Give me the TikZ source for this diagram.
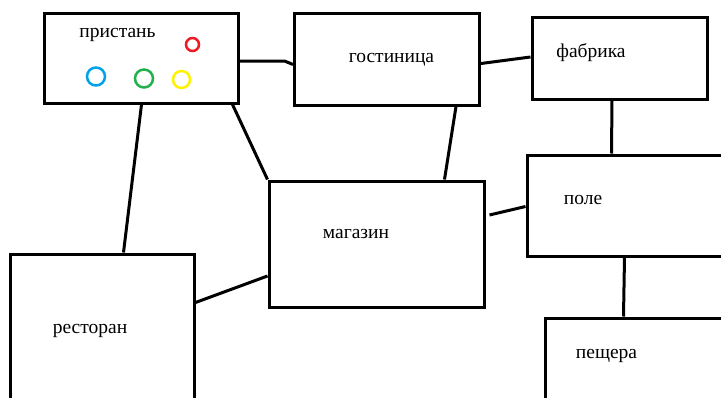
\documentclass[tikz,border=0pt]{standalone}
\usepackage{fontspec}
\setmainfont{Liberation Serif}
\usepackage{tikz}
\usetikzlibrary{positioning}
\definecolor{paintred}{RGB}{237,28,36}
\definecolor{paintblue}{RGB}{0,162,232}
\definecolor{paintgreen}{RGB}{34,177,76}
\definecolor{paintyellow}{RGB}{255,242,0}

\begin{document}
\begin{tikzpicture}[x=1pt, y=-1pt,
  box/.style={draw, line width=3pt, inner sep=0pt, fill=white},
  lbl/.style={anchor=base, inner sep=0pt, font=\fontsize{19.5}{22}\selectfont},
  link/.style={line width=3pt}]
\useasboundingbox (0,0) rectangle (721,397);
\clip (0,0) rectangle (721,397);
% Boxes
\node[box, minimum width=194pt, minimum height=90pt] (pristan) at (141,58) {};
\node[box, minimum width=185pt, minimum height=92pt] (gostinica) at (387,59) {};
\node[box, minimum width=175pt, minimum height=82pt] (fabrika) at (619.5,58) {};
\node[box, minimum width=213pt, minimum height=101pt] (pole) at (633.5,205.5) {};
\node[box, minimum width=215pt, minimum height=126pt] (magazin) at (376.5,244) {};
\node[box, minimum width=184pt, minimum height=156pt] (restoran) at (102,332) {};
\node[box, minimum width=195pt, minimum height=92pt] (peshchera) at (642.5,364) {};
% Labels
\node[lbl] (pristan-text) at (117.5,37) {пристань};
\node[lbl] (gostinica-text) at (391.5,62) {гостиница};
\node[lbl] (fabrika-text) at (591,57) {фабрика};
\node[lbl] (pole-text) at (583,204) {поле};
\node[lbl] (magazin-text) at (356,238) {магазин};
\node[lbl] (restoran-text) at (90,333) {ресторан};
\node[lbl] (peshchera-text) at (606.5,358) {пещера};
% Rings at the pier
\foreach \c/\x/\y/\r in {paintred/192.5/44.5/6.5, paintblue/96/76.5/9,
                         paintgreen/144/78.5/9, paintyellow/181.5/79.5/8.5} {
  \draw[\c, line width=2.5pt] (\x,\y) circle (\r);
}
% Links
\draw[link] ([shift={(0,3)}]pristan.east) -- ++(45,0) -- ([shift={(0,5.5)}]gostinica.west);
\draw[link] ([shift={(0,4.5)}]gostinica.east) -- ([shift={(0,-1)}]fabrika.west);
\draw[link] ([shift={(-7.5,0)}]fabrika.south) -- ([shift={(86,0)}]pole.north west);
\draw[link] ([shift={(163,0)}]gostinica.south west) -- ([shift={(177,0)}]magazin.north west);
\draw[link] ([shift={(4,-29)}]magazin.east) -- ([shift={(0,53)}]pole.north west);
\draw[link] ([shift={(99,0)}]pole.south west) -- ([shift={(80,0)}]peshchera.north west);
\draw[link] ([shift={(99,0)}]pristan.south west) -- ([shift={(115,0)}]restoran.north west);
\draw[link] ([shift={(-7,0)}]pristan.south east) -- (magazin.north west);
\draw[link] ([shift={(0,32)}]magazin.west) -- ([shift={(0,50)}]restoran.north east);
\end{tikzpicture}
\end{document}
